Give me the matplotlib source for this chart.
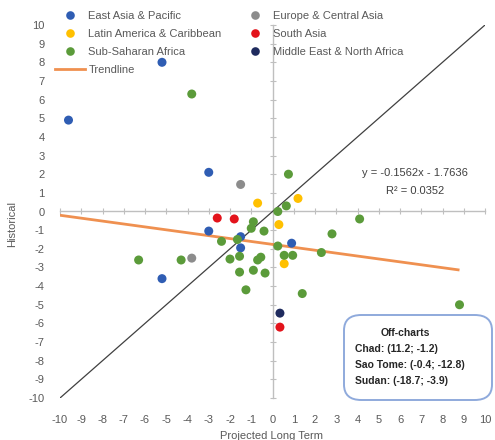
import matplotlib
matplotlib.use("Agg")
import matplotlib.pyplot as plt
from matplotlib.lines import Line2D
from matplotlib.patches import FancyBboxPatch

plt.rcParams["font.family"] = ["Liberation Sans", "DejaVu Sans"]
plt.rcParams["axes.unicode_minus"] = False

# Growth: projected long term (x) vs historical (y), by region
eap_x = [-9.6, -5.2, -3.0, -3.0, -5.2, -1.5, 0.9, -1.5]
eap_y = [4.9, 8.0, 2.1, -1.05, -3.6, -1.95, -1.7, -1.35]

lac_x = [-0.7, 1.2, 0.3, 0.55]
lac_y = [0.45, 0.7, -0.7, -2.8]

ssa_x = [-3.8, 0.75, 0.65, 0.25, -0.9, -1.0, -0.4, -2.4, -1.65, 0.25,
         -2.0, -1.55, -0.55, -0.7, 0.55, 0.95, -1.55, -0.9, -0.35, -1.25,
         1.4, -6.3, -4.3, 4.1, 2.8, 2.3, 8.8]
ssa_y = [6.3, 2.0, 0.3, 0.0, -0.55, -0.9, -1.05, -1.6, -1.5, -1.85,
         -2.55, -2.4, -2.45, -2.6, -2.35, -2.35, -3.25, -3.15, -3.3, -4.2,
         -4.4, -2.6, -2.6, -0.4, -1.2, -2.2, -5.0]

eca_x = [-1.5, -3.8]
eca_y = [1.45, -2.5]

sa_x = [-2.6, -1.8, 0.35]
sa_y = [-0.35, -0.4, -6.2]

mena_x = [0.35]
mena_y = [-5.45]

# Linear trend reported for the series
slope = -0.1562
intercept = -1.7636
r_squared = 0.0352
trend_x = [-10, 8.8]

off_chart = ["Chad: (11.2; -1.2)", "Sao Tome: (-0.4; -12.8)", "Sudan: (-18.7; -3.9)"]

ticks = list(range(-10, 11))

W, H = 495, 440
fig = plt.figure(figsize=(W / 100, H / 100), dpi=100)
pos = [60 / W, 42 / H, 425 / W, 373 / H]
ax = fig.add_axes(pos)
ax.set_xlim(-10, 10)
ax.set_ylim(-10, 10)
for s in ax.spines.values():
    s.set_visible(False)
ax.set_xticks(ticks)
ax.set_yticks(ticks)
ax.tick_params(length=0, labelsize=8, labelcolor="#595959")
ax.tick_params(axis="y", pad=11)
ax.tick_params(axis="x", pad=12)

# Overlay axes carrying the zero-crossing axis lines
ax0 = fig.add_axes(pos, sharex=ax, sharey=ax, zorder=0)
ax0.patch.set_visible(False)
ax0.spines["top"].set_visible(False)
ax0.spines["right"].set_visible(False)
ax0.spines["left"].set_position(("data", 0))
ax0.spines["bottom"].set_position(("data", 0))
for s in ("left", "bottom"):
    ax0.spines[s].set_color("#BFBFBF")
    ax0.spines[s].set_linewidth(1.0)
ax0.tick_params(direction="inout", length=5, width=0.8, color="#BFBFBF",
                labelleft=False, labelbottom=False)
ax.set_zorder(1)
ax.patch.set_visible(False)

# 45-degree reference line
ax.plot([-10, 10], [-10, 10], color="#404040", lw=0.9, zorder=2)

# Trend line
tx = trend_x
ty = [slope * v + intercept for v in tx]
ax.plot(tx, ty, color="#ED7D31", lw=2.0, alpha=0.85, zorder=2,
        solid_capstyle="butt")

series = [
    ("East Asia & Pacific", eap_x, eap_y, "#2F5DB3"),
    ("Latin America & Caribbean", lac_x, lac_y, "#FFC000"),
    ("Sub-Saharan Africa", ssa_x, ssa_y, "#5B9B3A"),
    ("Europe & Central Asia", eca_x, eca_y, "#8C8C8C"),
    ("South Asia", sa_x, sa_y, "#E3131B"),
    ("Middle East & North Africa", mena_x, mena_y, "#1F2B5E"),
]
for name, xs, ys, c in series:
    ax.scatter(xs, ys, s=42, color=c, edgecolors="none", zorder=3)

def mk(c):
    return Line2D([], [], marker="o", ls="none", color=c, markersize=6.2,
                  markeredgewidth=0)

h1 = [mk(series[0][3]), mk(series[1][3]), mk(series[2][3]),
      Line2D([], [], color="#ED7D31", lw=2.0, alpha=0.85)]
l1 = [series[0][0], series[1][0], series[2][0], "Trendline"]
h2 = [mk(series[3][3]), mk(series[4][3]), mk(series[5][3])]
l2 = [series[3][0], series[4][0], series[5][0]]

common = dict(frameon=False, fontsize=8, labelspacing=0.72, handlelength=2.7,
              handletextpad=0.3, borderpad=0, borderaxespad=0,
              loc="upper left", labelcolor="#595959")
leg1 = fig.legend(h1, l1, bbox_to_anchor=(55 / W, 1 - 11 / H), **common)
leg2 = fig.legend(h2, l2, bbox_to_anchor=(240 / W, 1 - 11 / H), **common)

# Trend equation
fig.text(415 / W, 1 - 173 / H, f"y = {slope}x - {abs(intercept)}",
         ha="center", va="center", fontsize=8, color="#404040")
fig.text(415 / W, 1 - 191 / H, f"R² = {r_squared}",
         ha="center", va="center", fontsize=8, color="#404040")

# Off-chart note
box = FancyBboxPatch((344 / W, 1 - 400 / H), 148 / W, 85 / H,
                     boxstyle="round,pad=0,rounding_size=0.035",
                     transform=fig.transFigure, facecolor="white",
                     edgecolor="#8FAADC", lw=1.4, zorder=5)
fig.add_artist(box)
fig.text(405 / W, 1 - 333 / H, "Off-charts", ha="center", va="center",
         fontsize=7.5, color="#262626", fontweight="bold", zorder=6)
for i, t in enumerate(off_chart):
    fig.text(355 / W, 1 - (349 + 16 * i) / H, t, ha="left", va="center",
             fontsize=7.5, color="#262626", fontweight="bold", zorder=6)

fig.text(272 / W, 1 - 436 / H, "Projected Long Term", ha="center",
         va="center", fontsize=8, color="#595959")
fig.text(12 / W, 1 - 224 / H, "Historical", ha="center", va="center",
         rotation=90, fontsize=8, color="#595959")

fig.savefig("out.png", dpi=100, facecolor="white")
